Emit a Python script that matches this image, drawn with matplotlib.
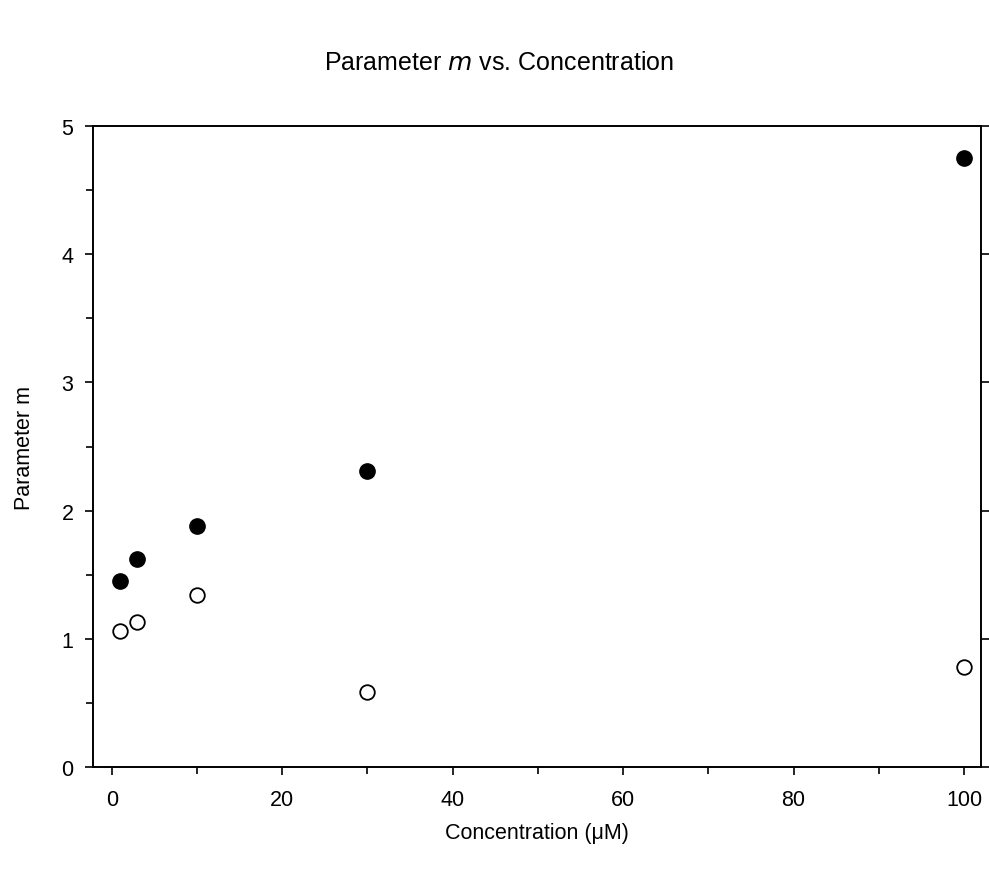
import matplotlib.pyplot as plt
from matplotlib.ticker import MultipleLocator

plt.rcParams['font.family'] = ['Liberation Sans', 'DejaVu Sans']

# Concentration (uM) and fitted parameter m for the two series
conc = [1, 3, 10, 30, 100]
m_filled = [1.45, 1.62, 1.88, 2.31, 4.75]
m_open = [1.06, 1.13, 1.34, 0.59, 0.78]

fig = plt.figure(figsize=(9.89, 8.70), dpi=100)
ax = fig.add_axes([0.094, 0.117, 0.898, 0.737])

ax.plot(conc, m_filled, 'o', color='black', markersize=11, linestyle='none')
ax.plot(conc, m_open, 'o', markerfacecolor='white', markeredgecolor='black',
        markeredgewidth=1.3, markersize=10.5, linestyle='none')

ax.set_xlim(-2.2, 102)
ax.set_ylim(0, 5)
ax.xaxis.set_major_locator(MultipleLocator(20))
ax.xaxis.set_minor_locator(MultipleLocator(10))
ax.yaxis.set_major_locator(MultipleLocator(1))
ax.yaxis.set_minor_locator(MultipleLocator(0.5))

ax.tick_params(which='both', direction='out', width=1.2, labelsize=15.5)
ax.tick_params(which='major', length=6)
ax.tick_params(axis='x', which='major', pad=10)
ax.tick_params(axis='y', which='major', pad=8)
ax.tick_params(which='minor', length=5)
ax.tick_params(axis='y', which='major', right=True)
for s in ax.spines.values():
    s.set_linewidth(1.4)

ax.set_xlabel('Concentration (\u03bcM)', fontsize=15.5, labelpad=8)
ax.set_ylabel('Parameter m', fontsize=15.5, labelpad=19)
fig.text(0.505, 0.928, 'Parameter $\\it{m}$ vs. Concentration', ha='center',
         va='center', fontsize=18)

plt.savefig('out.png', dpi=100)
